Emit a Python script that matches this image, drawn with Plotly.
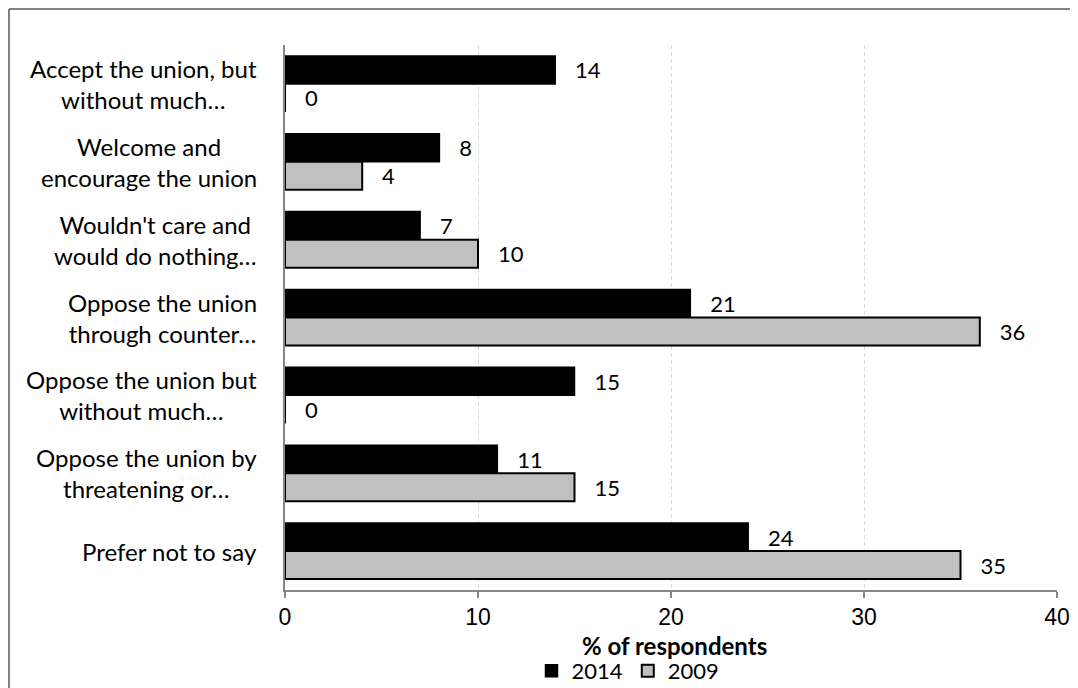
import plotly.graph_objects as go

categories = [
    "Accept the union, but<br>without much…",
    "Welcome and<br>encourage the union",
    "Wouldn't care and<br>would do nothing…",
    "Oppose the union<br>through counter…",
    "Oppose the union but<br>without much…",
    "Oppose the union by<br>threatening or…",
    "Prefer not to say",
]
series_names = ["2014", "2009"]
values_2014 = [14, 8, 7, 21, 15, 11, 24]
values_2009 = [0, 4, 10, 36, 0, 15, 35]
x_ticks = [0, 10, 20, 30, 40]
x_title = "% of respondents"

# the page body adds an 8px margin; work in page pixels and shift
OX, OY = 8, 8
W, H = 1078 - OX, 688 - OY
PL, PR, PT, PB = 285, 1057, 45, 590          # plot area in page pixels
L, R, T, B = PL - OX, (OX + W) - PR, PT - OY, (OY + H) - PB
pw, ph = W - L - R, H - T - B

def px_x(p):
    return (p - OX - L) / pw

def px_y(p):
    return (H - B - (p - OY)) / ph

LABEL_FONT = "Lato, Open Sans, sans-serif"

fig = go.Figure()
fig.add_trace(go.Bar(
    name=series_names[0], y=categories, x=values_2014, orientation="h",
    marker=dict(color="#000000", line=dict(color="#000000", width=1.5)),
    text=values_2014, texttemplate="   %{x}", textposition="outside",
    textfont=dict(family=LABEL_FONT, size=22, color="#000000"),
    cliponaxis=False,
))
fig.add_trace(go.Bar(
    name=series_names[1], y=categories, x=values_2009, orientation="h",
    marker=dict(color="#C0C0C0", line=dict(color="#000000", width=2)),
    text=values_2009, texttemplate="   %{x}", textposition="outside",
    textfont=dict(family=LABEL_FONT, size=22, color="#000000"),
    cliponaxis=False,
))

annotations = []
for c in categories:
    annotations.append(dict(
        x=px_x(259), xref="paper", y=c, yref="y", text=c, showarrow=False,
        xanchor="right", yanchor="middle", align="center",
        font=dict(family=LABEL_FONT, size=24, color="#000000"),
    ))
annotations.append(dict(
    x=px_x(674), xref="paper", y=px_y(645), yref="paper",
    text="<b>" + x_title + "</b>", showarrow=False,
    xanchor="center", yanchor="middle",
    font=dict(family=LABEL_FONT, size=24, color="#000000"),
))

fig.update_layout(
    width=W, height=H,
    margin=dict(l=L, r=R, t=T, b=B, autoexpand=False),
    paper_bgcolor="white", plot_bgcolor="white",
    barmode="group", bargap=0.28, bargroupgap=0,
    showlegend=True,
    legend=dict(
        orientation="h", x=px_x(628), xanchor="center", y=px_y(671), yanchor="middle",
        font=dict(family=LABEL_FONT, size=22, color="#000000"),
        itemwidth=30, tracegroupgap=0, bgcolor="rgba(0,0,0,0)",
    ),
    xaxis=dict(
        range=[0, 40], tickvals=x_ticks, ticktext=[str(t) for t in x_ticks],
        showline=True, linecolor="#868686", linewidth=1.5,
        ticks="outside", ticklen=6, tickcolor="#868686", tickwidth=1.5,
        showgrid=True, gridcolor="#d9d9d9", griddash="4px,3px", gridwidth=1,
        zeroline=False,
        tickfont=dict(family="Liberation Sans, Arial, sans-serif", size=23, color="#000000"),
    ),
    yaxis=dict(
        autorange="reversed", showticklabels=False, ticks="",
        showline=True, linecolor="#868686", linewidth=1.5,
        showgrid=False, zeroline=False,
    ),
    annotations=annotations,
    shapes=[
        dict(type="line", xref="paper", yref="paper",
             x0=px_x(9), x1=px_x(1100), y0=px_y(9), y1=px_y(9),
             line=dict(color="#595959", width=1.5)),
        dict(type="line", xref="paper", yref="paper",
             x0=px_x(9), x1=px_x(9), y0=px_y(9), y1=px_y(720),
             line=dict(color="#595959", width=1.5)),
    ],
)

fig.write_html("out.html")
